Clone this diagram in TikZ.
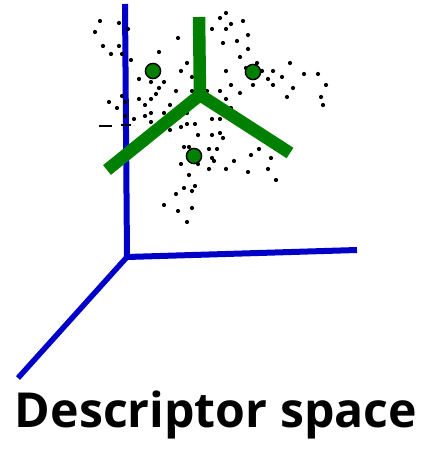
\documentclass[tikz,border=0pt]{standalone}
\usepackage{fontspec}
\setmainfont{Open Sans}
\definecolor{axisblue}{RGB}{0,0,200}
\definecolor{branchgreen}{RGB}{0,128,0}
\begin{document}
\begin{tikzpicture}[x=1pt,y=-1pt,
  axis/.style={line width=6pt,axisblue},
  branch/.style={line width=12.5pt,branchgreen},
  centroid/.style={draw=black,line width=1.4pt,fill=branchgreen}]
\useasboundingbox (0,0) rectangle (429,449);
% axes
\coordinate (origin) at (127,257);
\coordinate (ztop) at (125,4);
\coordinate (xend) at (357,250);
\coordinate (yend) at (18,378);
\draw[axis] (ztop) -- (origin) -- (xend);
\draw[axis,line width=5.5pt] (origin) -- (yend);
% descriptors
\foreach \x/\y in {100/21,119/23,128/29,95/32,103/46,119/46,111/54,122/54,131/60,
  159/52,178/38,187/63,181/71,139/79,151/82,164/82,159/88,156/94,139/99,151/99,
  145/105,109/102,117/108,122/96,125/102,125/116,134/119,151/113,145/116,151/122,
  164/113,170/105,176/91,170/130,181/127,187/124,195/124,187/113,192/77,192/91,
  207/91,198/135,184/147,189/147,181/164,198/164,189/175,195/186,192/191,184/188,
  176/194,164/205,178/211,192/208,187/222,209/149,217/149,212/158,214/161,209/169,
  226/169,212/135,220/133,223/138,212/119,220/119,220/91,226/99,231/108,226/71,
  231/85,240/93,220/18,226/13,231/24,226/29,243/21,212/29,223/43,237/41,248/35,
  248/49,240/57,246/68,257/63,262/71,253/85,268/79,273/71,273/85,282/77,290/63,
  293/88,287/97,304/74,318/74,326/85,321/97,323/105,234/161,251/155,259/149,
  271/158,248/172,268/169,276/180}
  \fill (\x,\y) circle (2.1);
\draw[line width=2.4pt] (99,126) -- (112,126);
\draw[line width=2.4pt] (121,125) -- (131,125);
% tree
\coordinate (ctr) at (200,95);
\coordinate (btop) at (199,17);
\coordinate (bleft) at (107,170);
\coordinate (bright) at (290,153);
\draw[branch] (bleft) -- (ctr) -- (bright) (ctr) -- (btop);
\foreach \cx/\cy in {153/71,253/72,194/156}
  \draw[centroid] (\cx,\cy) circle (7.6);
% caption
\node[anchor=base,inner sep=0pt,font=\bfseries] (caption) at (216,427)
  {\resizebox{402pt}{!}{Descriptor space}};
\end{tikzpicture}
\end{document}
